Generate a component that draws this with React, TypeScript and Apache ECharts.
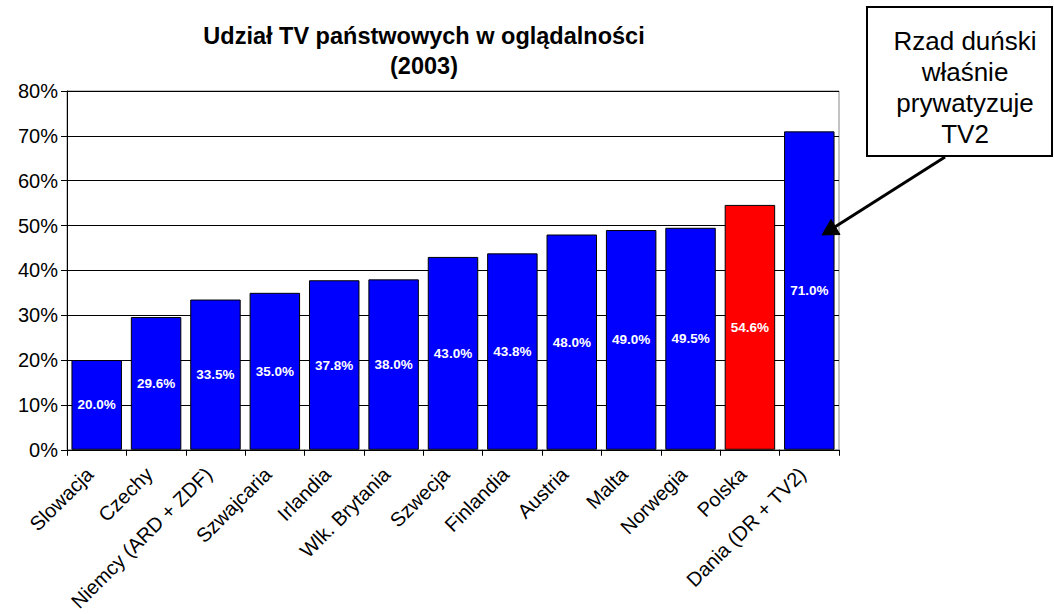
import React, { useEffect, useRef } from "react";
import * as echarts from "echarts";

const categories = [
  "Slowacja",
  "Czechy",
  "Niemcy (ARD + ZDF)",
  "Szwajcaria",
  "Irlandia",
  "Wlk. Brytania",
  "Szwecja",
  "Finlandia",
  "Austria",
  "Malta",
  "Norwegia",
  "Polska",
  "Dania (DR + TV2)",
];
const values = [20.0, 29.6, 33.5, 35.0, 37.8, 38.0, 43.0, 43.8, 48.0, 49.0, 49.5, 54.6, 71.0];
const highlighted = ["Polska"];
const titleLines = ["Udział TV państwowych w oglądalności", "(2003)"];
const calloutText = "Rzad duński\nwłaśnie\nprywatyzuje\nTV2";

export default function App() {
  const ref = useRef<HTMLDivElement>(null);
  useEffect(() => {
    if (!ref.current) return;
    const chart = echarts.init(ref.current, undefined, { renderer: "svg" });
    const font = "Arial, 'Liberation Sans', sans-serif";
    chart.setOption({
      animation: false,
      backgroundColor: "#ffffff",
      title: {
        text: titleLines.join("\n"),
        left: 419,
        textAlign: "center",
        top: 16,
        textStyle: { fontFamily: font, fontSize: 23.5, fontWeight: "bold", color: "#000", lineHeight: 30 },
      },
      grid: { left: 67, right: 215, top: 91, bottom: 164, show: true, borderColor: "#888", borderWidth: 1 },
      xAxis: {
        type: "category",
        data: categories,
        axisLine: { lineStyle: { color: "#000", width: 1 } },
        axisTick: { show: true, length: 6, lineStyle: { color: "#000" } },
        axisLabel: {
          rotate: 45,
          interval: 0,
          fontFamily: font,
          fontSize: 20,
          color: "#000",
          margin: 14,
          padding: [0, 10, 0, 0],
        },
      },
      yAxis: {
        type: "value",
        min: 0,
        max: 80,
        interval: 10,
        axisLine: { show: true, lineStyle: { color: "#000", width: 1 } },
        axisTick: { show: true, length: 6, lineStyle: { color: "#000" } },
        splitLine: { lineStyle: { color: "#000", width: 1 } },
        axisLabel: { formatter: "{value}%", fontFamily: font, fontSize: 20, color: "#000", margin: 9 },
      },
      series: [
        {
          type: "bar",
          barCategoryGap: "15%",
          data: categories.map((c, i) => ({
            value: values[i],
            itemStyle: {
              color: highlighted.includes(c) ? "#ff0000" : "#0000ff",
              borderColor: "#000",
              borderWidth: 1,
            },
          })),
          label: {
            show: true,
            position: "inside",
            formatter: (p: any) => p.value.toFixed(1) + "%",
            color: "#fff",
            fontFamily: font,
            fontSize: 13.5,
            fontWeight: "bold",
          },
        },
      ],
      graphic: [
        {
          type: "rect",
          z: 100,
          shape: { x: 867, y: 7, width: 185, height: 149 },
          style: { fill: "#fff", stroke: "#000", lineWidth: 2 },
        },
        {
          type: "text",
          z: 101,
          x: 965,
          y: 87,
          style: {
            text: calloutText,
            fontFamily: font,
            fontSize: 26,
            lineHeight: 31,
            fill: "#000",
            align: "center",
            verticalAlign: "middle",
          },
        },
        {
          type: "line",
          z: 100,
          shape: { x1: 945, y1: 157, x2: 834, y2: 227.5 },
          style: { stroke: "#000", lineWidth: 3 },
        },
        {
          type: "polygon",
          z: 101,
          shape: { points: [[822, 235], [840, 234.5], [831, 219.5]] },
          style: { fill: "#000", stroke: "#000", lineWidth: 1 },
        },
      ],
    });
    return () => chart.dispose();
  }, []);
  return <div ref={ref} style={{ position: "absolute", left: 0, top: 0, width: 1054, height: 614 }} />;
}
